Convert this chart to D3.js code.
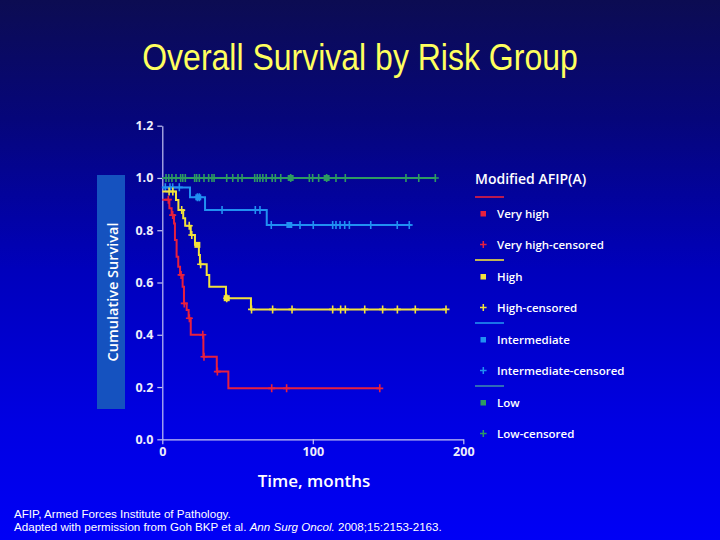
<html>
<head>
  <meta charset="utf-8">
  <title>Overall Survival by Risk Group</title>
  <script src="https://cdn.jsdelivr.net/npm/d3@7"></script>
  <style>
    body { margin: 0; background: #000; }
    svg { display: block; }
    .tick text { font-family: 'Open Sans', sans-serif; font-weight: 700; }
  </style>
</head>
<body>
<div id="chart"></div>
<script>
  const W = 720, H = 540

  // ---- data ----
  const groups = ["Very high", "High", "Intermediate", "Low"]

  // step function: time (months) where survival drops, and the value after it
  const veryHighTimes = [0, 4.7, 6.2, 7.8, 8.4, 9.5, 10.6, 11.8, 13.5, 14.4, 16.2, 17.5, 18.9, 27.3, 36.2, 43.9]
  const veryHighSurv = [0.917, 0.884, 0.858, 0.826, 0.763, 0.699, 0.660, 0.629, 0.584, 0.520, 0.495, 0.463, 0.400, 0.316, 0.259, 0.195]
  const veryHighEnd = 144.5
  const veryHighCensored = [4.0, 6.9, 12.5, 14.6, 18.0, 26.9, 27.7, 36.6, 72.7, 82.6, 144.5]
  const veryHighSquares = []

  const highTimes = [0, 9.1, 10.7, 13.9, 15.2, 18.9, 21.7, 24.3, 25.0, 29.5, 31.2, 42.3, 58.9]
  const highSurv = [0.948, 0.916, 0.877, 0.846, 0.817, 0.782, 0.744, 0.705, 0.670, 0.629, 0.584, 0.540, 0.497]
  const highEnd = 189
  const highCensored = [4.5, 7.0, 12.9, 17.9, 19.6, 25.5, 42.8, 59.3, 73.3, 86.2, 113.2, 118.5, 121.6, 134.5, 146.4, 156.2, 168.1, 188.5]
  const highSquares = [23.3, 42.8]

  const interTimes = [0, 18.4, 28.4, 69.4]
  const interSurv = [0.964, 0.926, 0.877, 0.820]
  const interEnd = 165.7
  const interCensored = [2.0, 5.1, 6.9, 11.3, 23.3, 24.6, 39.7, 61.8, 64.9, 72.4, 91.5, 100.3, 113.2, 115.4, 118.1, 121.2, 124.3, 138.5, 156.1, 164.1]
  const interSquares = [23.9, 84.4]

  const lowTimes = [0]
  const lowSurv = [1.0]
  const lowEnd = 181.4
  const lowCensored = [2.5, 4.3, 6.4, 9.1, 12.2, 13.6, 15.3, 21.5, 22.8, 24.6, 27.7, 30.8, 33.0, 34.4, 42.8, 46.8, 50.3, 53.0, 61.4, 63.1, 64.9, 66.8, 69.0, 73.0, 75.1, 78.7, 85.3, 97.7, 99.9, 103.9, 109.2, 115.4, 121.6, 161.9, 170.4, 181.4]
  const lowSquares = [85.3, 109.2]

  const xTicks = [0, 100, 200]
  const yTicks = [0, 0.2, 0.4, 0.6, 0.8, 1.0, 1.2]

  const colors = ["#e8203e", "#f2e23c", "#2190f2", "#2e9a62"]
  const legendLineColors = ["#e8203e", "#f2e23c", "#2190f2", "#3a86b0"]

  const series = [
    { times: veryHighTimes, surv: veryHighSurv, end: veryHighEnd, cens: veryHighCensored, sq: veryHighSquares },
    { times: highTimes, surv: highSurv, end: highEnd, cens: highCensored, sq: highSquares },
    { times: interTimes, surv: interSurv, end: interEnd, cens: interCensored, sq: interSquares },
    { times: lowTimes, surv: lowSurv, end: lowEnd, cens: lowCensored, sq: lowSquares }
  ]

  // survival value at time t (step after)
  function survAt(s, t) {
    let v = s.surv[0]
    for (let i = 0; i < s.times.length; i++) {
      if (s.times[i] <= t) v = s.surv[i]
    }
    return v
  }

  const svg = d3.select("#chart").append("svg")
    .attr("width", W).attr("height", H)

  // background
  const defs = svg.append("defs")
  const grad = defs.append("linearGradient").attr("id", "bg")
    .attr("x1", 0).attr("y1", 0).attr("x2", 0).attr("y2", 1)
  grad.append("stop").attr("offset", "0%").attr("stop-color", "#0c0c52")
  grad.append("stop").attr("offset", "22%").attr("stop-color", "#06067a")
  grad.append("stop").attr("offset", "50%").attr("stop-color", "#0000bc")
  grad.append("stop").attr("offset", "78%").attr("stop-color", "#0000e2")
  grad.append("stop").attr("offset", "100%").attr("stop-color", "#0000f6")
  svg.append("rect").attr("width", W).attr("height", H).attr("fill", "url(#bg)")

  // title
  svg.append("text")
    .attr("transform", "translate(360,70) scale(1,1.15)")
    .attr("text-anchor", "middle")
    .attr("font-family", "'Liberation Sans', Arial, sans-serif")
    .attr("font-size", 32)
    .attr("fill", "#ffff5e")
    .text("Overall Survival by Risk Group")

  // scales
  const x = d3.scaleLinear().domain([0, 200]).range([162.3, 463.3])
  const y = d3.scaleLinear().domain([0, 1.2]).range([439.3, 125.7])

  // y label box
  svg.append("rect")
    .attr("x", 97).attr("y", 175).attr("width", 28).attr("height", 234)
    .attr("fill", "#1552bf")
  svg.append("text")
    .attr("transform", "translate(117.5,292) rotate(-90)")
    .attr("text-anchor", "middle")
    .attr("font-family", "'Open Sans', sans-serif")
    .attr("font-weight", 600)
    .attr("font-size", 14.5)
    .attr("fill", "#ffffff")
    .text("Cumulative Survival")

  // axes
  const axisColor = "#c4c4f2"
  const gy = svg.append("g")
    .attr("transform", `translate(${x(0)},0)`)
    .call(d3.axisLeft(y).tickValues(yTicks).tickFormat(d3.format(".1f")).tickSize(5).tickSizeOuter(0).tickPadding(4))
  const gx = svg.append("g")
    .attr("transform", `translate(0,${y(0)})`)
    .call(d3.axisBottom(x).tickValues(xTicks).tickSize(5).tickSizeOuter(0).tickPadding(3))
  for (const g of [gx, gy]) {
    g.select(".domain").attr("stroke", axisColor).attr("stroke-width", 1.2)
    g.selectAll(".tick line").attr("stroke", axisColor).attr("stroke-width", 1.2)
    g.selectAll(".tick text").attr("fill", "#eeeefa").attr("font-size", 12.5)
  }

  svg.append("text")
    .attr("x", 314).attr("y", 487)
    .attr("text-anchor", "middle")
    .attr("font-family", "'Open Sans', sans-serif")
    .attr("font-weight", 600)
    .attr("font-size", 17)
    .attr("fill", "#ffffff")
    .text("Time, months")

  // curves, drawn low group first so red sits on top
  const line = d3.line().x(d => x(d[0])).y(d => y(d[1])).curve(d3.curveStepAfter)
  const order = [3, 2, 1, 0]
  order.forEach(i => {
    const s = series[i]
    const pts = s.times.map((t, k) => [t, s.surv[k]])
    pts.push([s.end, s.surv[s.surv.length - 1]])
    const g = svg.append("g")
    g.append("path").attr("d", line(pts))
      .attr("fill", "none").attr("stroke", colors[i]).attr("stroke-width", 2)

    g.selectAll("path.cens").data(s.cens).join("path").attr("class", "cens")
      .attr("d", t => {
        const cx = x(t), cy = y(survAt(s, t))
        return `M${cx},${cy - 4}V${cy + 4}M${cx - 3.5},${cy}H${cx + 3.5}`
      })
      .attr("stroke", colors[i]).attr("stroke-width", 1.6).attr("fill", "none")

    g.selectAll("rect.sq").data(s.sq).join("rect").attr("class", "sq")
      .attr("x", t => x(t) - 3).attr("y", t => y(survAt(s, t)) - 3)
      .attr("width", 6).attr("height", 6)
      .attr("fill", colors[i])
  })

  // legend
  const legend = svg.append("g").attr("font-family", "'Open Sans', sans-serif").attr("font-weight", 600)
  legend.append("text").attr("x", 475).attr("y", 184)
    .attr("font-size", 14).attr("fill", "#ffffff").text("Modified AFIP(A)")

  groups.forEach((name, i) => {
    const y0 = 197 + i * 63
    legend.append("line").attr("x1", 475).attr("x2", 504).attr("y1", y0).attr("y2", y0)
      .attr("stroke", legendLineColors[i]).attr("stroke-width", 1.6)
    legend.append("rect").attr("x", 480.5).attr("y", y0 + 14).attr("width", 5.5).attr("height", 5.5)
      .attr("fill", colors[i])
    legend.append("text").attr("x", 497).attr("y", y0 + 21).attr("font-size", 11.5)
      .attr("fill", "#ffffff").text(name)
    const cy = y0 + 47.5
    legend.append("path").attr("d", `M483.3,${cy - 3.5}V${cy + 3.5}M480,${cy}H486.6`)
      .attr("stroke", colors[i]).attr("stroke-width", 1.5)
    legend.append("text").attr("x", 497).attr("y", cy + 4.5).attr("font-size", 11.5)
      .attr("fill", "#ffffff").text(name + "-censored")
  })

  // footnote
  const foot = svg.append("g").attr("font-family", "'Liberation Sans', Arial, sans-serif")
    .attr("font-size", 11.6).attr("fill", "#ffffff")
  foot.append("text").attr("x", 14).attr("y", 518).text("AFIP, Armed Forces Institute of Pathology.")
  const t2 = foot.append("text").attr("x", 14).attr("y", 531)
  t2.append("tspan").text("Adapted with permission from Goh BKP et al. ")
  t2.append("tspan").attr("font-style", "italic").text("Ann Surg Oncol.")
  t2.append("tspan").text(" 2008;15:2153-2163.")
</script>
</body>
</html>
